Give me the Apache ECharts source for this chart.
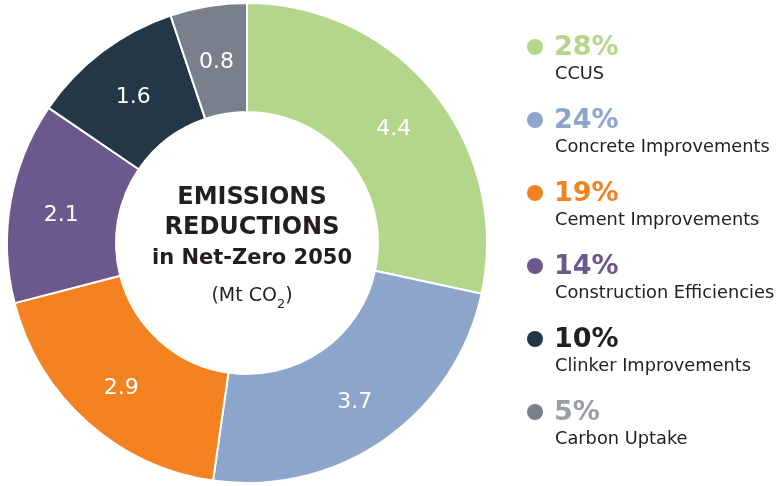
<!DOCTYPE html>
<html>
<head>
<meta charset="utf-8">
<script src="https://cdn.jsdelivr.net/npm/echarts@6/dist/echarts.min.js"></script>
<style>
  html, body { margin: 0; padding: 0; background: #fff; }
  #chart { width: 782px; height: 486px; }
</style>
</head>
<body>
<div id="chart"></div>
<script>
const categories = ['CCUS', 'Concrete Improvements', 'Cement Improvements', 'Construction Efficiencies', 'Clinker Improvements', 'Carbon Uptake']
const values = [4.4, 3.7, 2.9, 2.1, 1.6, 0.8]
const shares = ['28%', '24%', '19%', '14%', '10%', '5%']
const colors = ['#b4d68b', '#8ca5ca', '#f58220', '#6b598d', '#243746', '#7a808b']
const shareColors = ['#b4d68b', '#8ca5ca', '#f58220', '#6b598d', '#1f1f24', '#9a9ea6']

const font = 'DejaVu Sans'
const chart = echarts.init(document.getElementById('chart'), null, { renderer: 'canvas' })

// legend drawn as graphic text so the dot lines up with the percentage
const legendItems = []
categories.forEach((name, i) => {
  const y = 47 + i * 73
  legendItems.push(
    { type: 'circle', shape: { cx: 535, cy: y, r: 8 }, style: { fill: colors[i] } },
    { type: 'text', x: 554, y: y + 1, style: { text: shares[i], fill: shareColors[i], font: `bold 27px "${font}"`, textVerticalAlign: 'middle' } },
    { type: 'text', x: 555, y: y + 27, style: { text: name, fill: '#222', font: `17.8px "${font}"`, textVerticalAlign: 'middle' } }
  )
})

chart.setOption({
  animation: false,
  color: colors,
  title: {
    left: 247,
    top: 178,
    textAlign: 'center',
    text: '{a|EMISSIONS}\n{a|REDUCTIONS}\n{b|in Net-Zero 2050}\n{c|(Mt CO}{s|2}{c|)}',
    textStyle: {
      rich: {
        a: { fontFamily: font, fontWeight: 'bold', fontSize: 24, color: '#231f20', lineHeight: 30 },
        b: { fontFamily: font, fontWeight: 'bold', fontSize: 21, color: '#231f20', lineHeight: 31 },
        c: { fontFamily: font, fontWeight: 'normal', fontSize: 19, color: '#231f20', lineHeight: 44 },
        s: { fontFamily: font, fontWeight: 'normal', fontSize: 13, color: '#231f20', lineHeight: 44, padding: [17, 0, 0, 0] }
      }
    }
  },
  graphic: legendItems,
  series: [{
    type: 'pie',
    center: [247, 243],
    radius: [131, 240],
    startAngle: 90,
    clockwise: true,
    itemStyle: { borderColor: '#fff', borderWidth: 2 },
    label: {
      position: 'inside',
      formatter: '{c}',
      color: '#fff',
      fontFamily: font,
      fontSize: 22,
      offset: [0, 5]
    },
    labelLine: { show: false },
    emphasis: { disabled: true },
    data: categories.map((name, i) => ({ name, value: values[i] }))
  }]
})
</script>
</body>
</html>
